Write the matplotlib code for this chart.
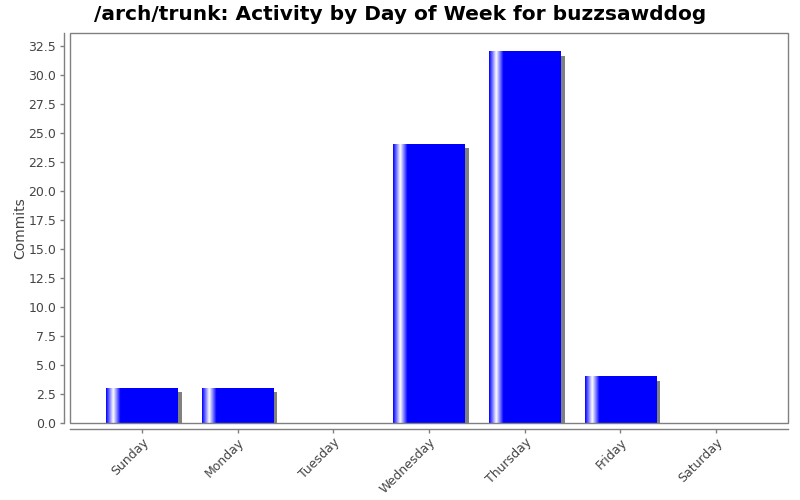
import numpy as np
import matplotlib
matplotlib.use('Agg')
import matplotlib.pyplot as plt
import matplotlib.transforms as mtransforms
from matplotlib.patches import Rectangle

# chart data
days = ['Sunday', 'Monday', 'Tuesday', 'Wednesday', 'Thursday', 'Friday', 'Saturday']
commits = [3, 3, 0, 24, 32, 4, 0]
y_ticks = [0.0, 2.5, 5.0, 7.5, 10.0, 12.5, 15.0, 17.5, 20.0, 22.5, 25.0, 27.5, 30.0, 32.5]

BAR_BLUE = (0.0, 0.0, 1.0)
GRAY = '#808080'
TEXT_GRAY = '#444444'


def gradient_strip(n=200):
    """Horizontal blue -> white -> blue highlight, like a JFreeChart gradient bar"""
    t = np.linspace(0, 1, n)
    f = np.zeros(n)
    m1 = t < 0.1
    m2 = (t >= 0.1) & (t < 0.2)
    f[m1] = t[m1] / 0.1
    f[m2] = 1 - (t[m2] - 0.1) / 0.1
    blue = np.array(BAR_BLUE)
    white = np.ones(3)
    rgb = blue[None, :] * (1 - f[:, None]) + white[None, :] * f[:, None]
    return rgb[None, :, :]


fig = plt.figure(figsize=(8, 5), dpi=100)
fig.patch.set_facecolor('white')
ax = fig.add_axes([70 / 800, 77 / 500, 718 / 800, 390 / 500])
ax.set_facecolor('white')

x = np.arange(len(days))
width = 0.75

# shadow, shifted 4 px right and down
shadow_tr = ax.transData + mtransforms.ScaledTranslation(4 / 100, -4 / 100, fig.dpi_scale_trans)
ax.bar(x, commits, width=width, color=GRAY, linewidth=0, transform=shadow_tr, zorder=1)

bars = ax.bar(x, commits, width=width, color=BAR_BLUE, linewidth=0, zorder=2)

strip = gradient_strip()
for bar in bars:
    h = bar.get_height()
    if h <= 0:
        continue
    x0 = bar.get_x()
    ax.imshow(strip, extent=[x0, x0 + bar.get_width(), 0, h],
              aspect='auto', interpolation='bilinear', zorder=3)

ax.set_xlim(-0.75, len(days) - 0.25)
ax.set_ylim(0, 33.6)

# frame around the plot area
ax.add_patch(Rectangle((0, 0), 1, 1, transform=ax.transAxes, fill=False,
                       edgecolor=GRAY, linewidth=1, zorder=5, clip_on=False))

# axis lines sit a little outside the plot area
ax.spines['top'].set_visible(False)
ax.spines['right'].set_visible(False)
for side in ['left', 'bottom']:
    ax.spines[side].set_position(('outward', 4))
    ax.spines[side].set_color(GRAY)
    ax.spines[side].set_linewidth(1)

ax.set_yticks(y_ticks)
ax.set_yticklabels([f'{v:.1f}' for v in y_ticks])
ax.set_xticks(x)
ax.set_xticklabels(days, rotation=45, ha='right', rotation_mode='anchor')

ax.tick_params(axis='both', colors=GRAY, labelcolor=TEXT_GRAY, labelsize=9,
               length=3, width=1, direction='out', pad=3)
ax.tick_params(axis='x', pad=2)

ax.set_ylabel('Commits', fontsize=10, color=TEXT_GRAY, labelpad=1)
fig.text(0.5, 1 - 14 / 500, '/arch/trunk: Activity by Day of Week for buzzsawddog',
         ha='center', va='center', fontsize=14.5, fontweight='bold', color='black')

fig.savefig('out.png', dpi=100, facecolor=fig.get_facecolor())
